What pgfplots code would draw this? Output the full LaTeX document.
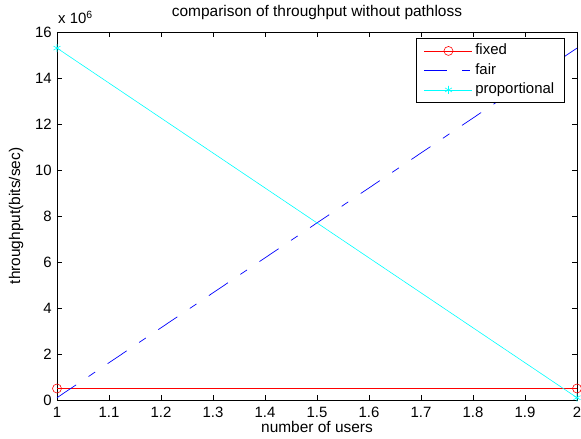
\documentclass[border=0pt]{standalone}
\usepackage{pgfplots}
\pgfplotsset{compat=1.18}
\usepackage{fontspec}
\setmainfont{Liberation Sans}
\usetikzlibrary{calc}
\definecolor{mred}{rgb}{1,0,0}
\definecolor{mblue}{rgb}{0,0,1}
\definecolor{mcyan}{rgb}{0,1,1}
\begin{document}
\begin{tikzpicture}
\begin{axis}[
  name=ax,
  scale only axis,
  width=520bp, height=368bp,
  xmin=1, xmax=2, ymin=0, ymax=16e6,
  xtick={1,1.1,...,2.01},
  xticklabels={1,1.1,1.2,1.3,1.4,1.5,1.6,1.7,1.8,1.9,2},
  ytick={0,2e6,4e6,6e6,8e6,10e6,12e6,14e6,16e6},
  scaled y ticks=base 10:-6,
  ytick scale label code/.code={},
  yticklabel style={/pgf/number format/fixed, inner sep=0pt, xshift=-5bp},
  xticklabel style={anchor=base, inner sep=0pt, yshift=-17bp},
  /pgf/number format/assume math mode=true,
  tick align=inside,
  major tick length=5bp,
  tick style={black, line width=0.6pt},
  axis line style={black, line width=0.8pt},
  tick label style={font=\fontsize{15}{18}\selectfont},
  every axis title shift=0pt,
  title={comparison of throughput without pathloss},
  title style={font=\fontsize{15.5}{18}\selectfont, at={(axis description cs:0.5,1.041)}, anchor=base, inner sep=0pt},
  xlabel={number of users},
  xlabel style={font=\fontsize{15.5}{18}\selectfont, at={(axis description cs:0.5,-0.087)}, anchor=base, inner sep=0pt},
  ylabel={throughput(bits/sec)},
  ylabel style={font=\fontsize{15.5}{18}\selectfont, at={(axis description cs:-0.0788,0.5)}, anchor=center, inner sep=0pt},
  legend style={at={(0.977,0.984)}, anchor=north east, draw=black, line width=0.6pt,
    font=\fontsize{15}{18}\selectfont, row sep=0bp, inner xsep=8bp, inner ysep=3bp,
    nodes={text height=11bp, text depth=3.5bp, inner sep=2.5bp}},
  legend cell align=left,
  legend image code/.code={%
    \draw[mark repeat=2, mark phase=2, #1] plot coordinates {(0bp,0bp) (24bp,0bp) (48bp,0bp)};},
]
\addplot[mred, line width=0.6pt, mark=o, mark size=4.5bp, mark options={solid}]
  coordinates {(1,0.5e6) (2,0.5e6)};
\addlegendentry{fixed}
\addplot[mblue, line width=0.7pt, dash pattern=on 23bp off 15bp on 8bp off 15bp]
  coordinates {(1,0.1e6) (2,15.3e6)};
\addlegendentry{fair}
\addplot[mcyan, line width=0.6pt, mark=asterisk, mark size=4bp, mark options={solid}]
  coordinates {(1,15.3e6) (2,0.1e6)};
\addlegendentry{proportional}
\end{axis}
\node[anchor=base west, font=\fontsize{15}{18}\selectfont, inner sep=0pt] at ($(ax.north west)+(1bp,8bp)$) {x 10\textsuperscript{6}};
\pgfresetboundingbox
\path ($(ax.south west)+(-57bp,-39bp)$) rectangle ($(ax.north east)+(4bp,32bp)$);
\end{tikzpicture}
\end{document}
